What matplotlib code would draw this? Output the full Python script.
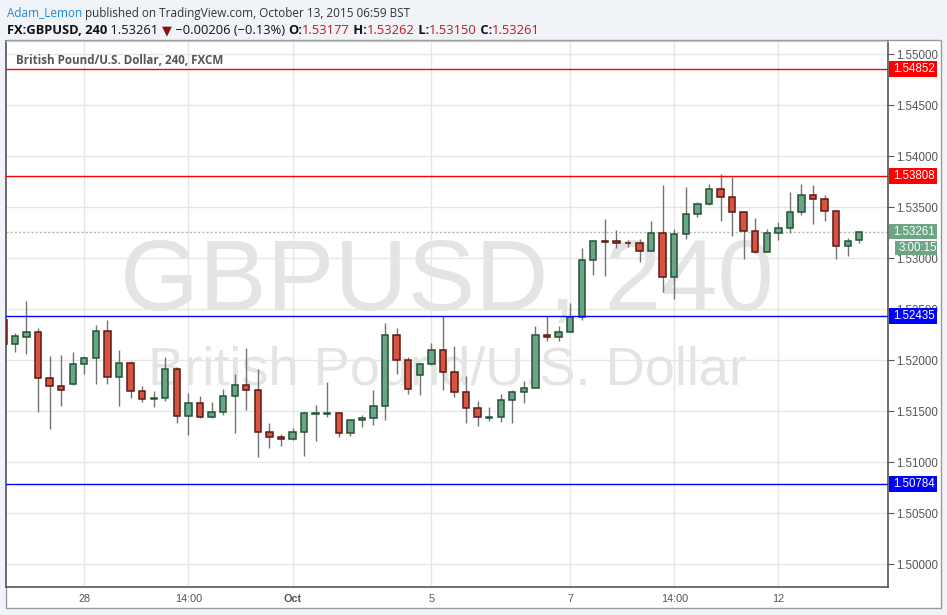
import matplotlib
matplotlib.use("Agg")
import matplotlib.pyplot as plt
import matplotlib.transforms as mtransforms
from matplotlib.patches import Rectangle

# ---------------- data ----------------
candle_idx = list(range(-1, 74))
opens = [1.52395,
         1.52157, 1.52232, 1.52274, 1.51823, 1.51745, 1.51771, 1.51960, 1.52019, 1.52284, 1.51833,
         1.51970, 1.51696, 1.51617, 1.51627, 1.51911, 1.51451, 1.51578, 1.51441, 1.51490, 1.51647,
         1.51755, 1.51706, 1.51294, 1.51245, 1.51225, 1.51294, 1.51478, 1.51478, 1.51480, 1.51284,
         1.51411, 1.51431, 1.51549, 1.52245, 1.52000, 1.51853, 1.51960, 1.52098, 1.51882, 1.51686,
         1.51529, 1.51439, 1.51441, 1.51608, 1.51686, 1.51725, 1.52245, 1.52225, 1.52274, 1.52421,
         1.52980, 1.53168, 1.53166, 1.53150, 1.53147, 1.53068, 1.53245, 1.52813, 1.53235, 1.53431,
         1.53529, 1.53676, 1.53598, 1.53451, 1.53264, 1.53059, 1.53245, 1.53294, 1.53451, 1.53617,
         1.53578, 1.53460, 1.53117, 1.53177]
highs = [1.52395,
         1.52268, 1.52581, 1.52313, 1.52042, 1.52052, 1.52081, 1.52042, 1.52346, 1.52392, 1.52101,
         1.51993, 1.51748, 1.51699, 1.52032, 1.51931, 1.51676, 1.51647, 1.51591, 1.51719, 1.51866,
         1.52121, 1.51915, 1.51386, 1.51277, 1.51336, 1.51493, 1.51562, 1.51787, 1.51490, 1.51428,
         1.51460, 1.51709, 1.52366, 1.52313, 1.52029, 1.51974, 1.52170, 1.52434, 1.52140, 1.51846,
         1.51601, 1.51542, 1.51670, 1.51706, 1.51797, 1.52336, 1.52434, 1.52336, 1.52562, 1.53101,
         1.53166, 1.53385, 1.53277, 1.53176, 1.53189, 1.53366, 1.53719, 1.53284, 1.53699, 1.53549,
         1.53728, 1.53827, 1.53800, 1.53460, 1.53395, 1.53284, 1.53353, 1.53650, 1.53728, 1.53719,
         1.53621, 1.53470, 1.53196, 1.53262]
lows = [1.52157,
        1.52085, 1.52065, 1.51496, 1.51330, 1.51555, 1.51758, 1.51869, 1.51771, 1.51771, 1.51555,
        1.51634, 1.51594, 1.51545, 1.51604, 1.51389, 1.51271, 1.51435, 1.51435, 1.51467, 1.51291,
        1.51516, 1.51055, 1.51144, 1.51163, 1.51222, 1.51065, 1.51212, 1.51447, 1.51251, 1.51261,
        1.51349, 1.51369, 1.51418, 1.51869, 1.51673, 1.51663, 1.51951, 1.51712, 1.51643, 1.51389,
        1.51359, 1.51408, 1.51398, 1.51389, 1.51585, 1.51725, 1.52192, 1.52192, 1.52274, 1.52398,
        1.52840, 1.52830, 1.53104, 1.53114, 1.52967, 1.53068, 1.52673, 1.52604, 1.53192, 1.53408,
        1.53519, 1.53369, 1.53222, 1.52996, 1.53049, 1.53059, 1.53183, 1.53248, 1.53421, 1.53340,
        1.53369, 1.52996, 1.53026, 1.53150]
closes = [1.52157,
          1.52235, 1.52274, 1.51823, 1.51745, 1.51706, 1.51960, 1.52019, 1.52284, 1.51833, 1.51970,
          1.51696, 1.51617, 1.51627, 1.51911, 1.51451, 1.51578, 1.51441, 1.51490, 1.51647, 1.51755,
          1.51706, 1.51294, 1.51245, 1.51225, 1.51294, 1.51480, 1.51482, 1.51482, 1.51284, 1.51411,
          1.51434, 1.51549, 1.52245, 1.52000, 1.51715, 1.51960, 1.52098, 1.51882, 1.51686, 1.51529,
          1.51441, 1.51443, 1.51608, 1.51686, 1.51725, 1.52245, 1.52225, 1.52274, 1.52421, 1.52980,
          1.53166, 1.53163, 1.53147, 1.53147, 1.53068, 1.53245, 1.52813, 1.53235, 1.53431, 1.53529,
          1.53676, 1.53598, 1.53451, 1.53264, 1.53059, 1.53245, 1.53294, 1.53451, 1.53617, 1.53578,
          1.53460, 1.53117, 1.53166, 1.53261]

red_levels = [1.54852, 1.53808]
blue_levels = [1.52435, 1.50784]
last_price = 1.53261
countdown = "3:00:15"

y_ticks = [1.500, 1.505, 1.510, 1.515, 1.520, 1.525, 1.530, 1.535, 1.540, 1.545, 1.550]
x_tick_pos = [6, 15, 24, 36, 48, 57, 66]
x_tick_labels = ["28", "14:00", "Oct", "5", "7", "14:00", "12"]

# ---------------- styling ----------------
W, H = 947, 615
BG = "#f0f3f7"
UP_FILL, UP_EDGE = "#6ba583", "#225437"
DN_FILL, DN_EDGE = "#d75442", "#5b1a13"
WICK = "#737375"
GRID = "#e6e6e6"
AXC = "#555555"

fig = plt.figure(figsize=(W / 100, H / 100), dpi=100, facecolor=BG)

# white chart panel
panel = Rectangle((6 / W, (H - 608) / H), (941 - 6) / W, (608 - 40) / H,
                  transform=fig.transFigure, facecolor="white", edgecolor="#9a9a9a",
                  linewidth=1, zorder=-5)
fig.patches.append(panel)

ax = fig.add_axes([6 / W, (H - 587) / H, 882 / W, (587 - 41) / H])
ax.set_facecolor("white")
ax.set_xlim(-0.77, 75.48)
ax.set_ylim(1.497775, 1.551304)

for s in ["left", "right", "bottom"]:
    ax.spines[s].set_color(AXC)
    ax.spines[s].set_linewidth(1.2)
ax.spines["top"].set_color("#c8c8c8")
ax.spines["top"].set_linewidth(0.8)

ax.yaxis.tick_right()
ax.set_yticks(y_ticks)
ax.set_yticklabels([f"{v:.5f}" for v in y_ticks], fontsize=8.3,
                   family=["Liberation Sans", "DejaVu Sans"], color=AXC)
ax.tick_params(axis="y", length=4, width=0.8, color=AXC, pad=2)
ax.set_xticks(x_tick_pos)
ax.set_xticklabels(x_tick_labels, fontsize=7.8, family=["Liberation Sans", "DejaVu Sans"],
                   color=AXC)
for lbl in ax.get_xticklabels():
    if lbl.get_text() == "Oct":
        lbl.set_fontweight("bold")
ax.tick_params(axis="x", length=0, pad=5)
ax.grid(True, color=GRID, linewidth=1.0, zorder=0)
ax.set_axisbelow(True)

# watermarks
ax.text(0.5, 0.555, "GBPUSD, 240", transform=ax.transAxes, ha="center", va="center",
        fontsize=73, color="#e4e4e4", family=["Liberation Sans", "DejaVu Sans"], zorder=0.5)
ax.text(0.5, 0.396, "British Pound/U.S. Dollar", transform=ax.transAxes, ha="center",
        va="center", fontsize=39, color="#e4e4e4", family=["Liberation Sans", "DejaVu Sans"],
        zorder=0.5)

# instrument title inside the chart
ax.text(10 / 882, 1 - (64.5 - 41) / 546, "British Pound/U.S. Dollar, 240, FXCM",
        transform=ax.transAxes, ha="left", va="baseline", fontsize=8.4, color="#555555",
        family=["Open Sans", "DejaVu Sans"], fontweight="bold", zorder=6)

# candles
body_w = 0.55
for x, o, h, l, c in zip(candle_idx, opens, highs, lows, closes):
    up = c >= o
    ax.vlines(x, l, h, color=WICK, linewidth=1.0, zorder=3)
    bottom = min(o, c)
    height = max(abs(c - o), 0.00001)
    ax.bar(x, height, bottom=bottom, width=body_w, color=UP_FILL if up else DN_FILL,
           edgecolor=UP_EDGE if up else DN_EDGE, linewidth=1.1, zorder=4)

# horizontal levels
for lv in red_levels:
    ax.axhline(lv, color="#ff0000", linewidth=1.0, zorder=5)
for lv in blue_levels:
    ax.axhline(lv, color="#0000ff", linewidth=1.0, zorder=5)
ax.axhline(last_price, color="#a9bdb3", linewidth=1.0, linestyle=(0, (1.5, 1.5)), zorder=2)

# price boxes on the right axis
bt = mtransforms.blended_transform_factory(ax.transAxes, ax.transData)
px_y = (1.551304 - 1.497775) / 546.0   # price per pixel
px_x = 1.0 / 882.0


def price_box(price, text, face, x0_px=1, w_px=48, h_px=16, yoff_px=0):
    yc = price - yoff_px * px_y
    r = Rectangle((1 + x0_px * px_x, yc - h_px / 2 * px_y), w_px * px_x, h_px * px_y,
                  transform=bt, facecolor=face, edgecolor="none", clip_on=False, zorder=10)
    ax.add_patch(r)
    ax.text(1 + (x0_px + 4) * px_x, yc, text, transform=bt, ha="left", va="center",
            fontsize=8.3, color="white", family=["Liberation Sans", "DejaVu Sans"],
            clip_on=False, zorder=11)


for lv in red_levels:
    price_box(lv, f"{lv:.5f}", "#ff0000")
for lv in blue_levels:
    price_box(lv, f"{lv:.5f}", "#0000ff")
price_box(last_price, f"{last_price:.5f}", UP_FILL, h_px=15)
price_box(last_price, countdown, UP_FILL, x0_px=7, w_px=42, h_px=14, yoff_px=16)

# ---------------- header ----------------
renderer = fig.canvas.get_renderer()


def segments(x_px, base_px, parts, size, fam):
    x = x_px
    for txt, color, weight in parts:
        t = fig.text(x / W, 1 - base_px / H, txt, ha="left", va="baseline", fontsize=size,
                     color=color, fontweight=weight, family=fam)
        bb = t.get_window_extent(renderer)
        x = bb.x1


segments(7, 16.5, [("Adam_Lemon", "#1e88d6", "normal"),
                   (" published on TradingView.com, October 13, 2015 06:59 BST", "#333333",
                    "normal")], 8.5, ["Open Sans", "DejaVu Sans"])

RED = "#b71c1c"
segments(7, 34.3, [("FX:GBPUSD, 240", "#111111", "bold"),
                   (" 1.53261 ", "#111111", "normal"),
                   ("\u25BC", "#8b1010", "normal"),
                   (" \u22120.00206 (\u22120.13%) ", "#111111", "normal"),
                   ("O:", "#111111", "bold"), ("1.53177", RED, "normal"),
                   (" H:", "#111111", "bold"), ("1.53262", RED, "normal"),
                   (" L:", "#111111", "bold"), ("1.53150", RED, "normal"),
                   (" C:", "#111111", "bold"), ("1.53261", RED, "normal")], 9.3,
         ["Open Sans", "DejaVu Sans"])

fig.savefig("out.png", dpi=100, facecolor=BG)
